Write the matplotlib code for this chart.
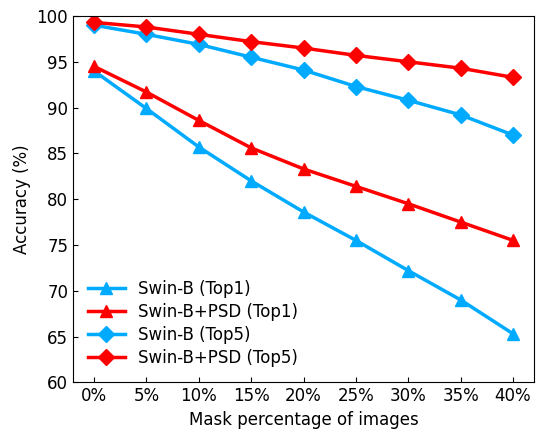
import numpy as np
import matplotlib
matplotlib.use('Agg')
import matplotlib.pyplot as plt

# mask ratios (%)
mask = [0, 5, 10, 15, 20, 25, 30, 35, 40]
tick_labels = ['0%', '5%', '10%', '15%', '20%', '25%', '30%', '35%', '40%']

swin_top1 = [94.0, 89.9, 85.7, 82.0, 78.6, 75.5, 72.2, 69.0, 65.3]
psd_top1 = [94.5, 91.7, 88.6, 85.6, 83.3, 81.4, 79.5, 77.5, 75.5]
swin_top5 = [99.0, 98.0, 96.9, 95.5, 94.1, 92.3, 90.8, 89.2, 87.0]
psd_top5 = [99.3, 98.8, 98.0, 97.2, 96.5, 95.7, 95.0, 94.3, 93.3]

blue = '#00aaff'
red = '#ff0000'

fig, ax = plt.subplots(figsize=(5.41, 4.32), dpi=100)
ax.plot(mask, swin_top1, color=blue, marker='^', lw=2.5, ms=9, label='Swin-B (Top1)')
ax.plot(mask, psd_top1, color=red, marker='^', lw=2.5, ms=9, label='Swin-B+PSD (Top1)')
ax.plot(mask, swin_top5, color=blue, marker='D', lw=2.5, ms=8, label='Swin-B (Top5)')
ax.plot(mask, psd_top5, color=red, marker='D', lw=2.5, ms=8, label='Swin-B+PSD (Top5)')

ax.set_ylim(60, 100)
ax.set_xlim(-2, 42)
ax.set_xticks(mask)
ax.set_xticklabels(tick_labels)
ax.set_yticks(np.arange(60, 101, 5))
ax.tick_params(direction='in', labelsize=12)
ax.set_xlabel('Mask percentage of images', fontsize=12)
ax.set_ylabel('Accuracy (%)', fontsize=12)
ax.legend(loc='lower left', frameon=False, fontsize=12, handlelength=2.2,
          labelspacing=0.3)

fig.subplots_adjust(left=0.135, right=0.987, top=0.963, bottom=0.115)
fig.savefig('out.png', dpi=100)
